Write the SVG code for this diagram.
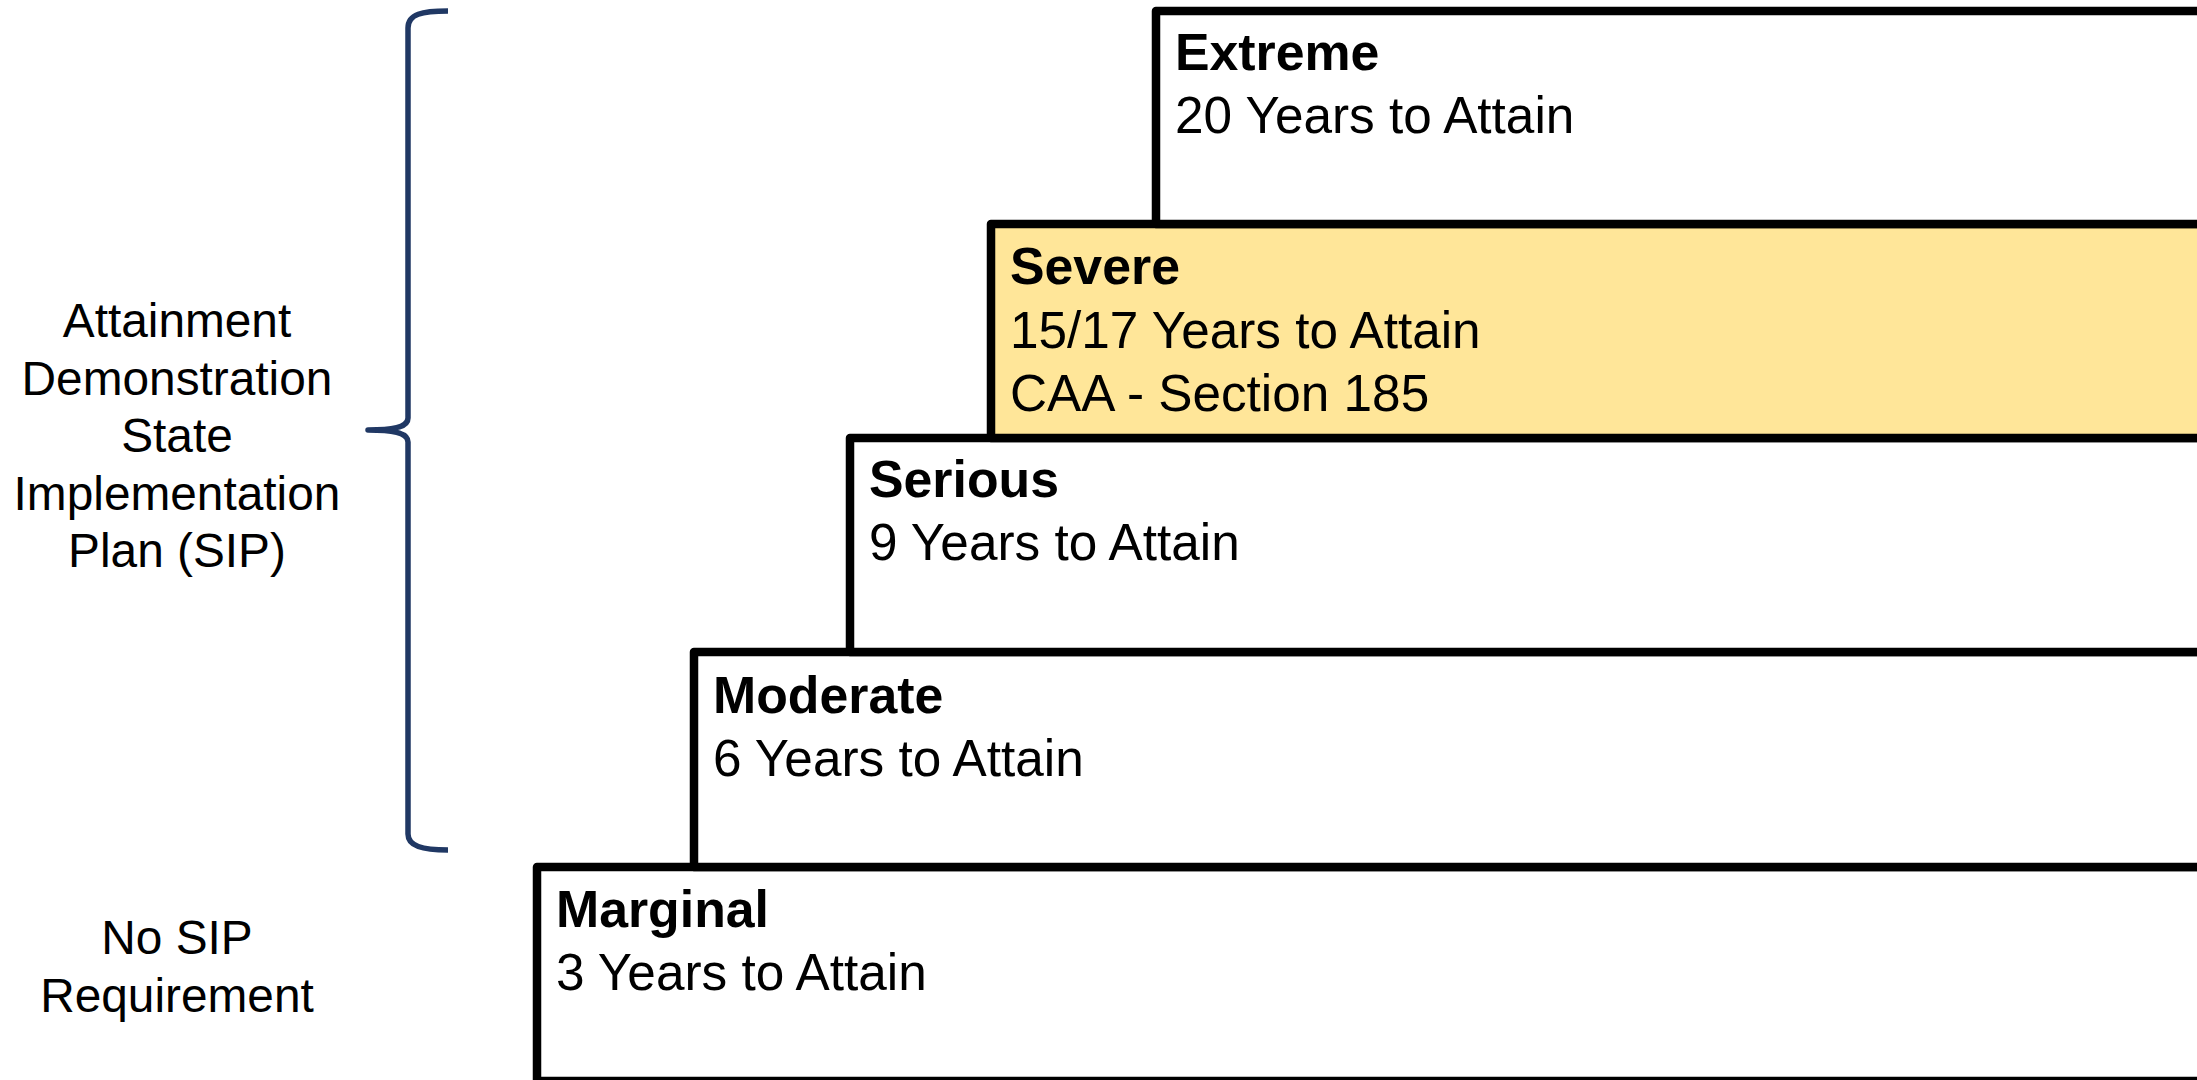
<svg xmlns="http://www.w3.org/2000/svg" width="2197" height="1080" viewBox="0 0 2197 1080">
<style>
.box{fill:#FFFFFF;stroke:#000000;stroke-width:8.5;stroke-linejoin:round}
.hl{fill:#FFE699}
.t{font-family:"Liberation Sans",Arial,sans-serif;font-size:51.3px;fill:#000}
.b{font-weight:bold;font-size:51.8px}
.side{font-family:"Liberation Sans",Arial,sans-serif;font-size:47.8px;fill:#000;text-anchor:middle}
.brace{fill:none;stroke:#203864;stroke-width:5.5;stroke-linecap:butt;stroke-linejoin:round}
</style>
<rect width="2197" height="1080" fill="#FFFFFF"/>
<g id="marginal">
<rect class="box" x="537" y="867" width="1700" height="214"/>
<text class="t b" x="556" y="927">Marginal</text>
<text class="t" x="556" y="990">3 Years to Attain</text>
</g>
<g id="moderate">
<rect class="box" x="694" y="652" width="1600" height="215"/>
<text class="t b" x="713" y="713">Moderate</text>
<text class="t" x="713" y="776">6 Years to Attain</text>
</g>
<g id="serious">
<rect class="box" x="850" y="438" width="1500" height="214"/>
<text class="t b" x="869" y="497">Serious</text>
<text class="t" x="869" y="560">9 Years to Attain</text>
</g>
<g id="severe">
<rect class="box hl" x="991" y="224" width="1400" height="214"/>
<text class="t b" x="1010" y="284">Severe</text>
<text class="t" x="1010" y="348">15/17 Years to Attain</text>
<text class="t" x="1010" y="411">CAA - Section 185</text>
</g>
<g id="extreme">
<rect class="box" x="1156" y="11" width="1300" height="213"/>
<text class="t b" x="1175" y="70">Extreme</text>
<text class="t" x="1175" y="133">20 Years to Attain</text>
</g>
<g id="connectors">
<path class="brace" d="M448,11 C422,11 408,14 408,28 L408,418 C408,426 398,430 368,430 C398,430 408,434 408,442 L408,834 C408,846 422,850 448,850"/>
</g>
<g id="sip-label">
<text class="side" x="177" y="337">Attainment</text>
<text class="side" x="177" y="395">Demonstration</text>
<text class="side" x="177" y="452">State</text>
<text class="side" x="177" y="510">Implementation</text>
<text class="side" x="177" y="567">Plan (SIP)</text>
</g>
<g id="no-sip-label">
<text class="side" x="177" y="954">No SIP</text>
<text class="side" x="177" y="1012">Requirement</text>
</g>
</svg>
